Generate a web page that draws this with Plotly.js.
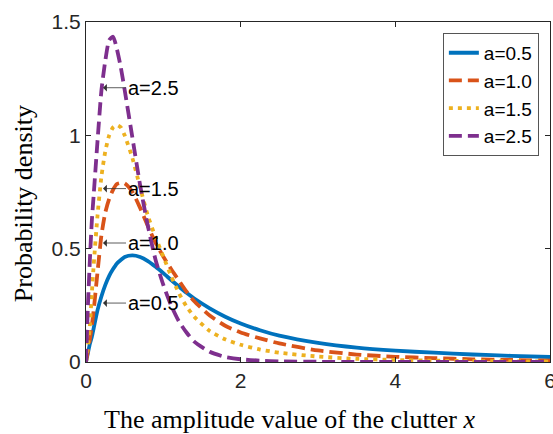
<!DOCTYPE html>
<html>
<head>
<meta charset="utf-8">
<script src="https://cdn.plot.ly/plotly-3.0.1.min.js"></script>
<style>html,body{margin:0;padding:0;background:#fff;}#chart{width:553px;height:434px;}</style>
</head>
<body>
<div id="chart"></div>
<script>
// Amplitude values of the clutter (x axis)
const xVals = [0, 0.025, 0.05, 0.075, 0.1, 0.15, 0.2, 0.25, 0.3, 0.35, 0.4, 0.45, 0.5, 0.6, 0.7, 0.8, 0.9, 1.0, 1.1, 1.2, 1.3, 1.4, 1.6, 1.8, 2.0, 2.25, 2.5, 3.0, 3.5, 4.0, 4.5, 5.0, 5.5, 6.0];

// Probability density for each shape parameter a
const pdfA05 = [0, 0.04, 0.08, 0.11, 0.15, 0.23, 0.29, 0.34, 0.38, 0.41, 0.435, 0.45, 0.463, 0.47, 0.463, 0.445, 0.42, 0.392, 0.362, 0.333, 0.305, 0.28, 0.237, 0.2, 0.17, 0.14, 0.116, 0.084, 0.063, 0.05, 0.041, 0.033, 0.027, 0.022];
const pdfA10 = [0, 0.05, 0.10, 0.16, 0.23, 0.40, 0.56, 0.66, 0.72, 0.76, 0.785, 0.79, 0.788, 0.75, 0.68, 0.60, 0.525, 0.465, 0.41, 0.36, 0.31, 0.268, 0.205, 0.16, 0.13, 0.104, 0.082, 0.051, 0.033, 0.023, 0.017, 0.012, 0.009, 0.006];
const pdfA15 = [0, 0.07, 0.16, 0.30, 0.43, 0.65, 0.82, 0.93, 1.0, 1.035, 1.045, 1.035, 1.0, 0.90, 0.77, 0.645, 0.55, 0.465, 0.38, 0.305, 0.245, 0.20, 0.137, 0.10, 0.076, 0.055, 0.041, 0.024, 0.014, 0.009, 0.006, 0.004, 0.003, 0.002];
const pdfA25 = [0, 0.25, 0.45, 0.62, 0.74, 0.98, 1.2, 1.33, 1.42, 1.435, 1.38, 1.30, 1.20, 0.99, 0.78, 0.60, 0.45, 0.34, 0.25, 0.18, 0.13, 0.09, 0.045, 0.022, 0.012, 0.006, 0.003, 0.001, 0, 0, 0, 0, 0, 0];

const seriesNames = ['a=0.5', 'a=1.0', 'a=1.5', 'a=2.5'];
const seriesColors = ['#0072BD', '#D95319', '#EDB120', '#7E2F8E'];
const seriesDash = ['solid', '13px,6px', '4px,5px', '13px,6px'];

// Annotation labels and the points they point at
const labelText = ['a=2.5', 'a=1.5', 'a=1.0', 'a=0.5'];
const labelX = [0.22, 0.22, 0.22, 0.22];
const labelY = [1.21, 0.765, 0.525, 0.26];

const xTicks = [0, 2, 4, 6];
const xTickText = ['0', '2', '4', '6'];
const yTicks = [0, 0.5, 1, 1.5];
const yTickText = ['0', '0.5', '1', '1.5'];

const xTitle = 'The amplitude value of the clutter <i>x</i>';
const yTitle = 'Probability density';

const ys = [pdfA05, pdfA10, pdfA15, pdfA25];
const traces = ys.map((y, i) => ({
  x: xVals, y: y, type: 'scatter', mode: 'lines', name: seriesNames[i],
  line: {color: seriesColors[i], width: 3.8, dash: seriesDash[i], shape: 'spline', smoothing: 0.6}
}));

const annotations = labelText.map((t, i) => ({
  x: labelX[i], y: labelY[i], xref: 'x', yref: 'y', text: t,
  showarrow: true, ax: 23, ay: 0, axref: 'pixel', ayref: 'pixel',
  arrowhead: 1, arrowsize: 1.6, arrowwidth: 0.8, arrowcolor: '#333',
  xanchor: 'left', yanchor: 'middle',
  font: {family: 'Liberation Sans, Arial', size: 20, color: '#000'}
}));
const titleFont = {family: 'Liberation Serif, Times New Roman', size: 26, color: '#000'};
annotations.push({
  xref: 'paper', yref: 'paper', x: 0.44, y: -0.168, text: xTitle, showarrow: false,
  xanchor: 'center', yanchor: 'middle', font: titleFont
});
annotations.push({
  xref: 'paper', yref: 'paper', x: -0.133, y: 0.465, text: yTitle, showarrow: false,
  textangle: -90, xanchor: 'center', yanchor: 'middle', font: titleFont
});

const axisCommon = {
  showgrid: false, zeroline: false, showline: true, linecolor: '#262626', linewidth: 1,
  mirror: 'ticks', ticks: 'inside', ticklen: 5, tickcolor: '#262626',
  ticklabeloverflow: 'allow',
  tickfont: {family: 'Liberation Sans, Arial', size: 21, color: '#262626'}
};

const layout = {
  width: 553, height: 434,
  margin: {l: 86, r: 3, t: 22, b: 72},
  paper_bgcolor: '#fff', plot_bgcolor: '#fff',
  showlegend: true,
  legend: {
    x: 0.976, y: 0.968, xanchor: 'right', yanchor: 'top',
    bgcolor: '#fff', bordercolor: '#555', borderwidth: 1,
    font: {family: 'Liberation Sans, Arial', size: 19, color: '#000'},
    tracegroupgap: 0, itemwidth: 30
  },
  xaxis: Object.assign({}, axisCommon, {range: [0, 6], tickvals: xTicks, ticktext: xTickText}),
  yaxis: Object.assign({}, axisCommon, {range: [0, 1.5], tickvals: yTicks, ticktext: yTickText}),
  annotations: annotations
};

Plotly.newPlot('chart', traces, layout, {staticPlot: true, displayModeBar: false});
</script>
</body>
</html>
